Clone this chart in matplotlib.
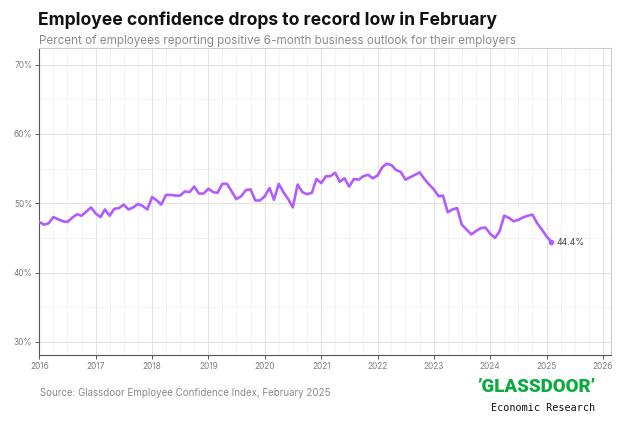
import pandas as pd
import matplotlib.pyplot as plt
import matplotlib.dates as mdates
import matplotlib.ticker as mticker

# Monthly share of employees with a positive 6-month outlook (%)
vals_2016 = [47.3, 46.9, 47.1, 48.0, 47.7, 47.4, 47.3, 47.9, 48.4, 48.2, 48.8, 49.4]
vals_2017 = [48.5, 48.0, 49.1, 48.2, 49.2, 49.3, 49.8, 49.1, 49.4, 49.9, 49.6, 49.1]
vals_2018 = [50.9, 50.4, 49.8, 51.2, 51.2, 51.1, 51.1, 51.7, 51.6, 52.4, 51.4, 51.4]
vals_2019 = [52.1, 51.6, 51.5, 52.8, 52.8, 51.7, 50.6, 51.0, 51.9, 52.0, 50.4, 50.4]
vals_2020 = [51.0, 52.2, 50.5, 52.8, 51.6, 50.6, 49.4, 52.7, 51.6, 51.3, 51.5, 53.5]
vals_2021 = [52.9, 53.9, 53.9, 54.4, 53.1, 53.6, 52.4, 53.5, 53.4, 53.9, 54.1, 53.6]
vals_2022 = [54.0, 55.2, 55.7, 55.5, 54.8, 54.5, 53.4, 53.75, 54.1, 54.45, 53.5, 52.7]
vals_2023 = [52.0, 51.0, 51.1, 48.7, 49.1, 49.3, 46.9, 46.2, 45.5, 46.0, 46.4, 46.5]
vals_2024 = [45.6, 45.0, 45.9, 48.2, 47.9, 47.4, 47.6, 47.95, 48.2, 48.35, 47.1, 46.2]
vals_2025 = [45.2, 44.4]

values = (vals_2016 + vals_2017 + vals_2018 + vals_2019 + vals_2020
          + vals_2021 + vals_2022 + vals_2023 + vals_2024 + vals_2025)
dates = pd.date_range('2016-01-01', periods=len(values), freq='MS')

y_ticks = [30, 40, 50, 60, 70]
title = 'Employee confidence drops to record low in February'
subtitle = 'Percent of employees reporting positive 6-month business outlook for their employers'
source = 'Source: Glassdoor Employee Confidence Index, February 2025'

plt.rcParams['font.family'] = ['Inter', 'DejaVu Sans']

W, H = 633, 423
fig = plt.figure(figsize=(W / 100, H / 100), dpi=100)
ax = fig.add_axes([39.3 / W, 1 - 355 / H, (611 - 39.3) / W, (355 - 48) / H])

purple = '#B25CFF'
ax.plot(dates, values, color=purple, lw=1.9, solid_joinstyle='round', zorder=3)
ax.plot(dates[-1], values[-1], 'o', color=purple, ms=3, zorder=4)
ax.annotate(f'{values[-1]:.1f}%', (dates[-1], values[-1]), xytext=(4, 0),
            textcoords='offset points', va='center', fontsize=6.3, color='#444444')

# Axes limits and ticks
x0 = mdates.date2num(pd.Timestamp('2016-01-01'))
x1 = mdates.date2num(pd.Timestamp('2026-01-01')) + 52
ax.set_xlim(x0, x1)
ax.set_ylim(28.1, 72.4)
ax.xaxis.set_major_locator(mdates.YearLocator())
ax.xaxis.set_major_formatter(mdates.DateFormatter('%Y'))
ax.xaxis.set_minor_locator(mdates.MonthLocator(bymonth=[4, 7, 10]))
ax.set_yticks(y_ticks)
ax.yaxis.set_minor_locator(mticker.MultipleLocator(5))
ax.yaxis.set_major_formatter(mticker.FuncFormatter(lambda v, p: f'{v:.0f}%'))

ax.tick_params(which='major', labelsize=6, labelcolor='#808080', color='#555555',
               length=3, width=0.7, pad=2)
ax.tick_params(which='minor', length=0)

ax.grid(which='major', color='#e4e4e4', lw=0.8)
ax.grid(which='minor', color='#f1f1f1', lw=0.6)
ax.set_axisbelow(True)

for side in ['left', 'bottom']:
    ax.spines[side].set_color('#555555')
    ax.spines[side].set_linewidth(0.8)
for side in ['top', 'right']:
    ax.spines[side].set_color('#cccccc')
    ax.spines[side].set_linewidth(0.8)

# Titles and footer
fig.text(38 / W, 1 - 20 / H, title, fontsize=12.6, weight='bold', va='center', color='#111111')
fig.text(39 / W, 1 - 41 / H, subtitle, fontsize=8.4, va='center', color='#8a8a8a')
fig.text(40 / W, 1 - 393 / H, source, fontsize=7, va='center', color='#8a8a8a')

fig.text(596 / W, 1 - 387 / H, '\u2019GLASSDOOR\u2019', fontsize=13.5, weight='heavy',
         ha='right', va='center', color='#0CAA41',
         family=['Roboto', 'DejaVu Sans'])
fig.text(595 / W, 1 - 408 / H, 'Economic Research', fontsize=7.3, ha='right',
         va='center', color='#111111', family=['DejaVu Sans Mono'])

fig.savefig('out.png', dpi=100)
